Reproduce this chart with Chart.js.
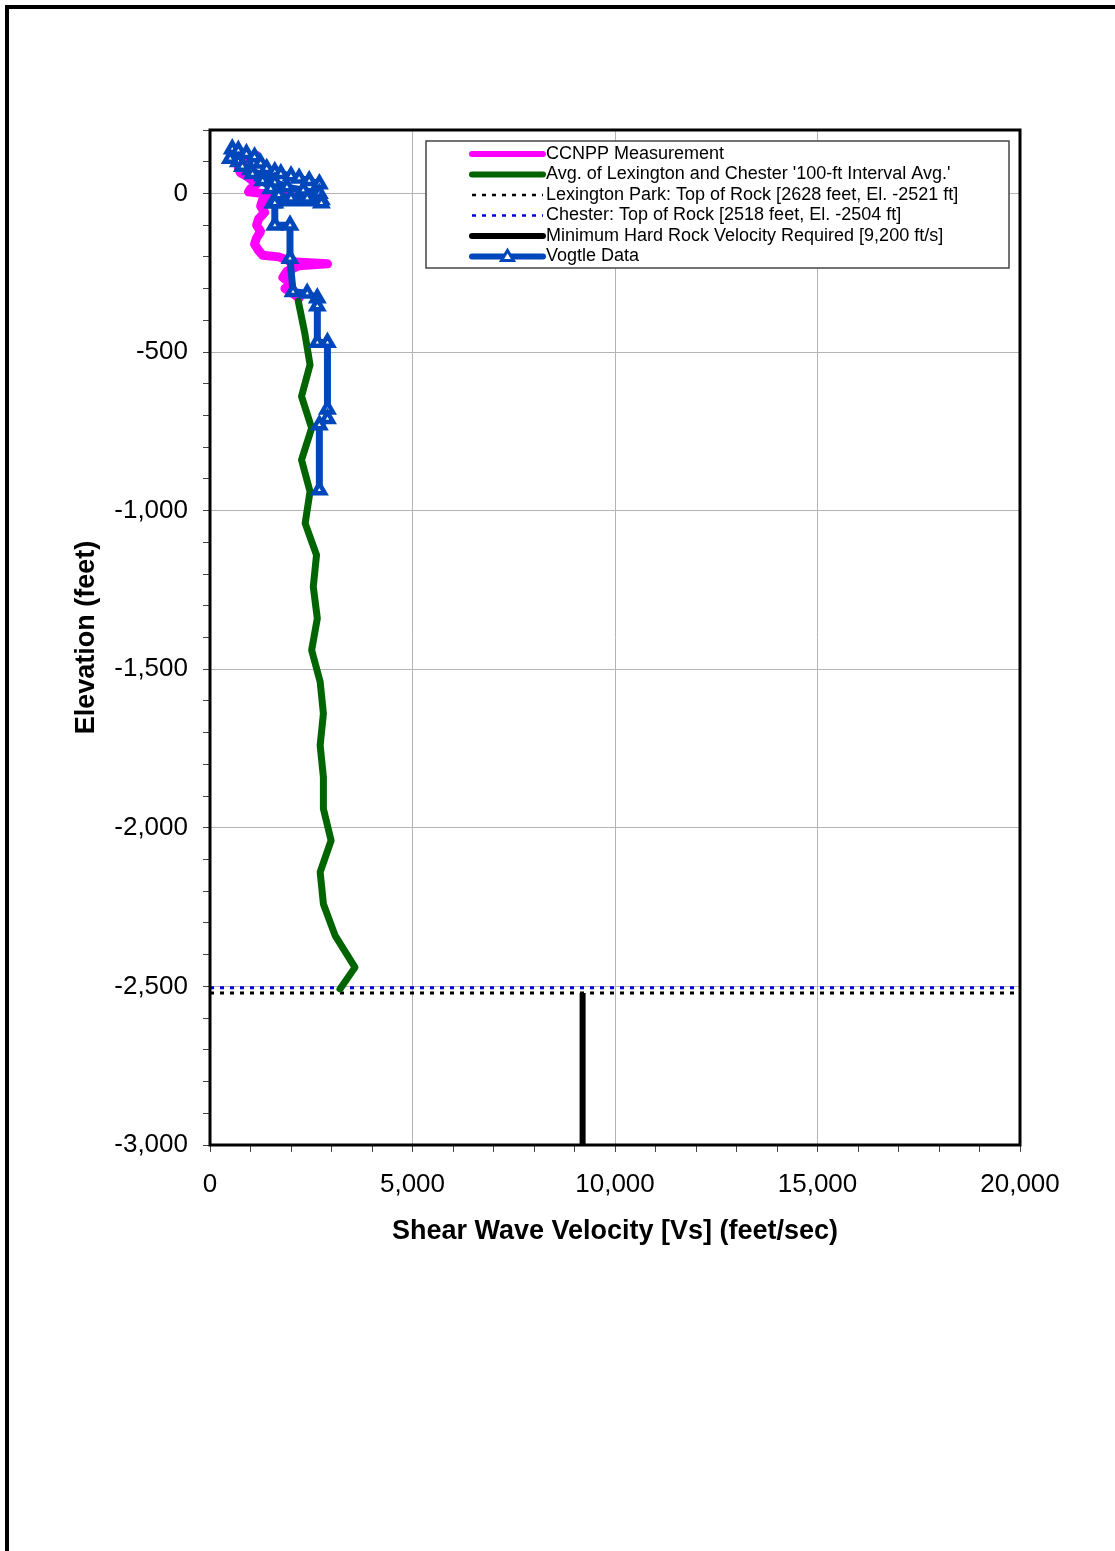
<!DOCTYPE html>
<html>
<head>
<meta charset="utf-8">
<title>Shear Wave Velocity Profile</title>
<script src="https://cdn.jsdelivr.net/npm/chart.js@4.4.1/dist/chart.umd.min.js"></script>
<style>
  html, body { margin: 0; padding: 0; background: #fff; overflow: hidden; }
  #frame { position: absolute; left: 5px; top: 5px; width: 1300px; height: 1700px;
           border-left: 4px solid #000; border-top: 4px solid #000; }
  #wrap { position: absolute; left: 0; top: 0; width: 1115px; height: 1551px; }
</style>
</head>
<body>
<div id="frame"></div>
<div id="wrap"><canvas id="vsChart"></canvas></div>
<script>
var ccnppVs = [1150, 950, 800, 700, 750, 900, 1000, 1150, 1000, 950, 1300, 1600, 2100, 1500, 1300,
  1250, 1350, 1200, 1150, 1250, 1150, 1100, 1200, 1300, 1700, 2000, 2900, 2200, 1900, 1800,
  2000, 1850, 2050, 2200];
var ccnppElev = [120, 105, 92, 80, 65, 55, 45, 30, 15, 5, 0, -5, -12, -15, -20,
  -40, -60, -80, -100, -120, -140, -160, -180, -195, -200, -215, -222, -228, -245, -265,
  -285, -300, -315, -330];

// Avg. of Lexington and Chester '100-ft Interval Avg.'
var avgVs = [2180, 2340, 2470, 2260, 2510, 2260, 2470, 2350, 2630, 2550, 2650, 2510, 2720,
  2800, 2720, 2800, 2800, 2990, 2720, 2800, 3090, 3580, 3210];
var avgElev = [-340, -440, -540, -640, -740, -840, -940, -1040, -1140, -1240, -1340, -1440, -1540,
  -1640, -1740, -1840, -1940, -2040, -2140, -2240, -2340, -2440, -2508];

// top of rock lines
var rockLineVs = [0, 20000];
var lexTopElev = -2521;
var chesterTopElev = -2504;

// minimum hard rock velocity
var minHardRockVs = 9200;
var minHardRockElev = [-2521, -3000];

// Vogtle data
var vogtleVs = [550, 700, 900, 1100, 1250, 1400, 1600, 1750, 2000, 2200, 2450, 2700,
  2700, 2300, 1900, 1600, 1300, 1000, 700, 500,
  800, 1050, 1300, 1500, 1700, 2000, 2400, 2750,
  2750, 1550, 1600, 1600, 1975, 1975, 2050, 2400, 2650, 2650, 2650, 2900, 2900, 2900, 2700, 2700];
var vogtleElev = [140, 135, 125, 115, 95, 78, 68, 62, 55, 48, 40, 30,
  0, 10, 20, 35, 55, 75, 100, 110,
  85, 62, 40, 15, -5, -15, -15, -20,
  -30, -30, -30, -100, -100, -205, -310, -315, -330, -355, -470, -470, -680, -710, -730, -935];

var legendLabels = [
  "CCNPP Measurement",
  "Avg. of Lexington and Chester '100-ft Interval Avg.'",
  "Lexington Park: Top of Rock [2628 feet, El. -2521 ft]",
  "Chester: Top of Rock [2518 feet, El. -2504 ft]",
  "Minimum Hard Rock Velocity Required [9,200 ft/s]",
  "Vogtle Data"
];

var xTitle = "Shear Wave Velocity [Vs] (feet/sec)";
var yTitle = "Elevation (feet)";

function toPoints(xs, ys) {
  return xs.map(function(v, i) { return { x: v, y: ys[i] }; });
}

var fontFamily = "'Liberation Sans', Arial, sans-serif";

// legend box, axis titles and plot frame
var decorPlugin = {
  id: 'decor',
  afterDatasetsDraw: function(chart) {
    var c = chart.ctx, a = chart.chartArea;
    c.save();
    // plot frame
    c.strokeStyle = '#000';
    c.lineWidth = 3;
    c.strokeRect(a.left, a.top, a.right - a.left, a.bottom - a.top);

    // legend
    var bx = a.left + 216, by = a.top + 11, bw = 583, bh = 127;
    c.fillStyle = '#fff';
    c.fillRect(bx, by, bw, bh);
    c.strokeStyle = '#444';
    c.lineWidth = 1.5;
    c.strokeRect(bx, by, bw, bh);
    c.font = '18px ' + fontFamily;
    c.textBaseline = 'middle';
    chart.data.datasets.forEach(function(ds, i) {
      var y = by + 13 + i * 20.5;
      var x0 = bx + 46, x1 = bx + 117;
      c.beginPath();
      c.strokeStyle = ds.borderColor;
      c.lineCap = ds.borderDash ? 'butt' : 'round';
      c.lineWidth = ds.borderDash ? 2.5 : 6;
      c.setLineDash(ds.borderDash ? [4, 6] : []);
      c.moveTo(x0, y);
      c.lineTo(x1, y);
      c.stroke();
      c.setLineDash([]);
      if (ds.pointStyle === 'triangle') {
        var mx = (x0 + x1) / 2;
        c.beginPath();
        c.moveTo(mx, y - 6);
        c.lineTo(mx + 6, y + 4);
        c.lineTo(mx - 6, y + 4);
        c.closePath();
        c.fillStyle = '#fff';
        c.fill();
        c.lineWidth = 3;
        c.strokeStyle = ds.borderColor;
        c.stroke();
      }
      c.fillStyle = '#000';
      c.textAlign = 'left';
      c.fillText(legendLabels[i], bx + 120, y);
    });

    // axis titles
    c.fillStyle = '#000';
    c.font = 'bold 27px ' + fontFamily;
    c.textAlign = 'center';
    c.textBaseline = 'middle';
    c.fillText(xTitle, (a.left + a.right) / 2, a.bottom + 87);
    c.translate(a.left - 123, (a.top + a.bottom) / 2);
    c.rotate(-Math.PI / 2);
    c.fillText(yTitle, 0, 0);
    c.restore();
  }
};

new Chart(document.getElementById('vsChart'), {
  type: 'scatter',
  data: {
    datasets: [{
      label: legendLabels[0],
      data: toPoints(ccnppVs, ccnppElev),
      showLine: true,
      borderColor: '#ff00ff',
      backgroundColor: '#ff00ff',
      borderWidth: 9,
      borderJoinStyle: 'round',
      borderCapStyle: 'round',
      pointRadius: 0,
      order: 3
    }, {
      label: legendLabels[1],
      data: toPoints(avgVs, avgElev),
      showLine: true,
      borderColor: '#006400',
      backgroundColor: '#006400',
      borderWidth: 7,
      borderJoinStyle: 'round',
      borderCapStyle: 'round',
      pointRadius: 0,
      order: 2
    }, {
      label: legendLabels[2],
      data: toPoints(rockLineVs, [lexTopElev, lexTopElev]),
      showLine: true,
      borderColor: '#000',
      borderWidth: 3,
      borderDash: [4, 6],
      pointRadius: 0,
      order: 5
    }, {
      label: legendLabels[3],
      data: toPoints(rockLineVs, [chesterTopElev, chesterTopElev]),
      showLine: true,
      borderColor: '#0000dd',
      borderWidth: 3,
      borderDash: [4, 6],
      pointRadius: 0,
      order: 4
    }, {
      label: legendLabels[4],
      data: toPoints([minHardRockVs, minHardRockVs], minHardRockElev),
      showLine: true,
      borderColor: '#000',
      borderWidth: 6,
      pointRadius: 0,
      order: 1
    }, {
      label: legendLabels[5],
      data: toPoints(vogtleVs, vogtleElev),
      showLine: true,
      borderColor: '#0047bb',
      backgroundColor: '#ffffff',
      borderWidth: 7,
      borderJoinStyle: 'round',
      pointStyle: 'triangle',
      pointRadius: 6.5,
      pointBorderWidth: 4.5,
      order: 0
    }]
  },
  options: {
    responsive: true,
    maintainAspectRatio: false,
    animation: false,
    layout: { padding: { left: 0, top: 130, right: 95, bottom: 0 } },
    plugins: {
      legend: { display: false },
      tooltip: { enabled: false }
    },
    scales: {
      x: {
        type: 'linear',
        min: 0,
        max: 20000,
        border: { display: false },
        afterFit: function(scale) { scale.height = 406; },
        grid: {
          color: function(ctx) { return ctx.tick && ctx.tick.value % 5000 === 0 ? '#b4b4b4' : 'rgba(0,0,0,0)'; },
          lineWidth: 1,
          tickColor: '#444',
          tickLength: 7
        },
        ticks: {
          stepSize: 1000,
          autoSkip: false,
          maxRotation: 0,
          padding: 17,
          color: '#000',
          font: { family: fontFamily, size: 26 },
          callback: function(value) {
            return value % 5000 === 0 ? value.toLocaleString('en-US') : '';
          }
        }
      },
      y: {
        type: 'linear',
        min: -3000,
        max: 200,
        border: { display: false },
        afterFit: function(scale) { scale.width = 210; },
        grid: {
          color: function(ctx) { return ctx.tick && ctx.tick.value % 500 === 0 ? '#b4b4b4' : 'rgba(0,0,0,0)'; },
          lineWidth: 1,
          tickColor: '#444',
          tickLength: 7
        },
        ticks: {
          stepSize: 100,
          autoSkip: false,
          padding: 15,
          color: '#000',
          font: { family: fontFamily, size: 26 },
          callback: function(value) {
            return value % 500 === 0 ? value.toLocaleString('en-US') : '';
          }
        }
      }
    }
  },
  plugins: [decorPlugin]
});
</script>
</body>
</html>
